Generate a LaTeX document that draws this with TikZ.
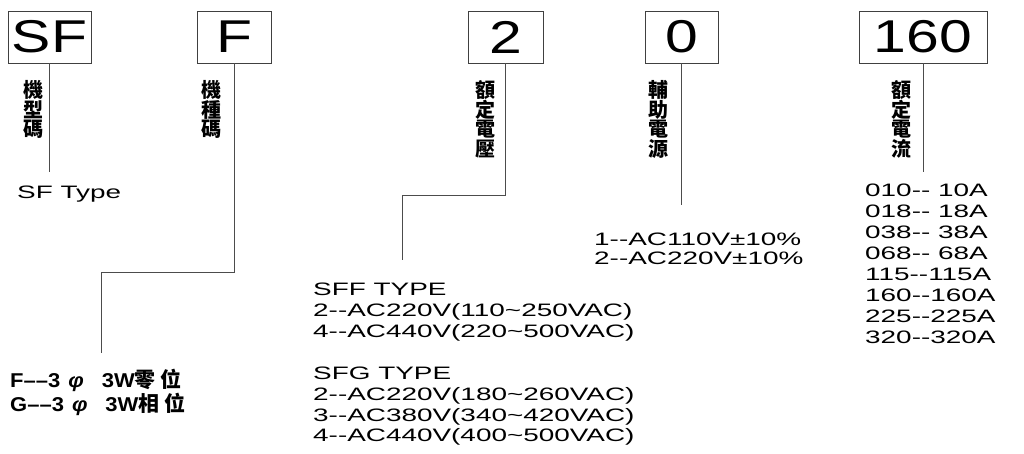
\documentclass[tikz,border=0pt]{standalone}
\usepackage{fontspec}
\setmainfont{Liberation Sans}
\newfontfamily\specfont{Liberation Sans}[FakeStretch=1.55]
\newfontfamily\codefont{Liberation Sans}[FakeStretch=1.28]
\newfontfamily\phasefont{Liberation Sans}[FakeStretch=1.1]
\newfontfamily\cjk{Noto Sans CJK TC}
\usetikzlibrary{positioning,calc}
\tikzset{
  codebox/.style={draw=black!75,line width=0.9pt,minimum height=52pt,inner sep=0pt,font=\codefont\fontsize{46}{46}\selectfont},
  vtag/.style={font=\cjk\bfseries\fontsize{20}{19.5}\selectfont,align=center,inner sep=0pt},
  spec/.style={font=\specfont\fontsize{18}{20.9}\selectfont,align=left,inner sep=0pt,anchor=north west},
  wire/.style={draw=black!70,line width=0.8pt},
}

\begin{document}
\begin{tikzpicture}[x=1pt,y=-1pt]
  \useasboundingbox (0,0) rectangle (1024,454);
  \node[codebox,minimum width=83pt] (sf) at (49.5,37) {SF};
  \node[codebox,minimum width=74pt] (f) at (234,37) {F};
  \node[codebox,minimum width=75pt] (v2) at (505.5,37) {2};
  \node[codebox,minimum width=73pt] (v0) at (681.5,37) {0};
  \node[codebox,minimum width=128pt] (amp) at (923,37) {160};
  \node[vtag,below left=17pt and 6pt of sf.south] (sfn) {機\\型\\碼};
  \node[vtag,below left=17pt and 12pt of f.south] (fn) {機\\種\\碼};
  \node[vtag,below left=17pt and 10pt of v2.south] (v2n) {額\\定\\電\\壓};
  \node[vtag,below left=17pt and 13pt of v0.south] (v0n) {輔\\助\\電\\源};
  \node[vtag,below left=17pt and 11pt of amp.south] (ampn) {額\\定\\電\\流};
  \node[spec] (sft) at (17,186) {SF Type};
  \node[spec,font=\phasefont\bfseries\fontsize{20}{18}\selectfont] (ph) at (10,369)
    {F––3\hspace{8pt}{\itshape φ}\hspace{18pt}3W{\cjk\fontsize{21}{18}\selectfont 零\hspace{5pt}位}\\
     G––3\hspace{8pt}{\itshape φ}\hspace{18pt}3W{\cjk\fontsize{21}{18}\selectfont 相\hspace{5pt}位}};
  \node[spec] (sff) at (313,283) {SFF TYPE\\2-{}-AC220V(110\textasciitilde250VAC)\\4-{}-AC440V(220\textasciitilde500VAC)};
  \node[spec,below=25pt of sff.south west,anchor=north west] (sfg)
    {SFG TYPE\\2-{}-AC220V(180\textasciitilde260VAC)\\3-{}-AC380V(340\textasciitilde420VAC)\\4-{}-AC440V(400\textasciitilde500VAC)};
  \node[spec,font=\specfont\fontsize{18}{18.5}\selectfont] (ac) at (594,233) {1-{}-AC110V±10\%\\2-{}-AC220V±10\%};
  \node[spec] (cur) at (865,184) {010-{}- 10A\\018-{}- 18A\\038-{}- 38A\\068-{}- 68A\\115-{}-115A\\160-{}-160A\\225-{}-225A\\320-{}-320A};
  \coordinate (fk) at (101,272);
  \coordinate (v2k) at (402,195);
  \draw[wire,shorten >=14pt] (sf) -- (sf |- sft.north);
  \draw[wire,shorten >=16pt] (f) |- (fk) -- (fk |- ph.north);
  \draw[wire,shorten >=23pt] (v2) |- (v2k) -- (v2k |- sff.north);
  \draw[wire,shorten >=28pt] (v0) -- (v0 |- ac.north);
  \draw[wire,shorten >=12pt] (amp) -- (amp |- cur.north);
\end{tikzpicture}
\end{document}
